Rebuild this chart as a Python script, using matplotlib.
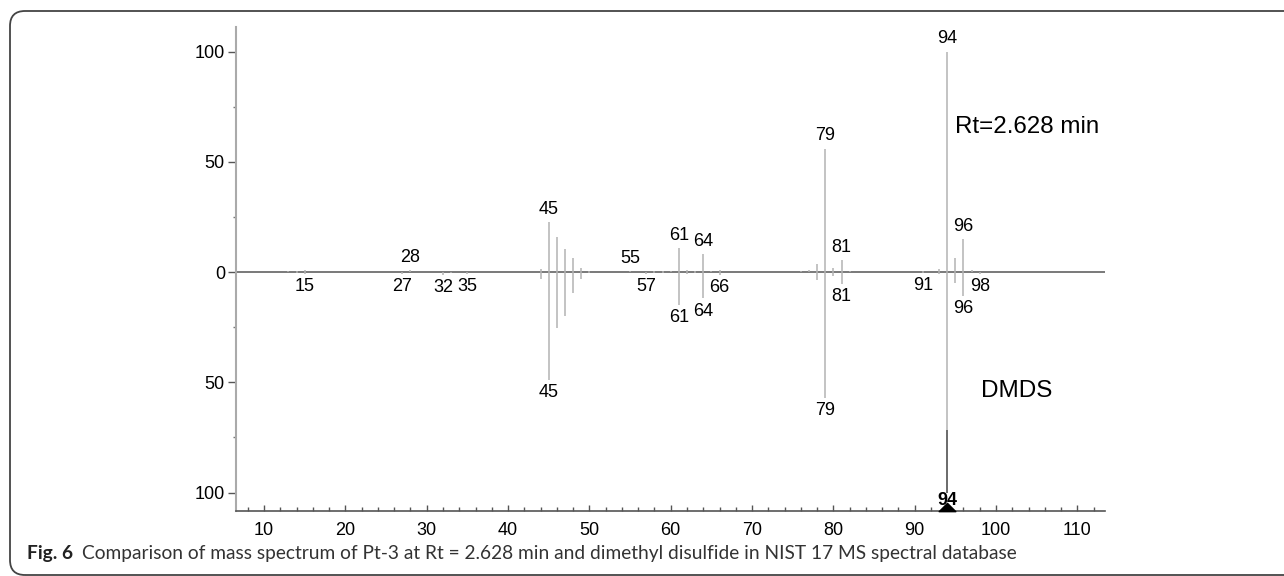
import numpy as np
import matplotlib
matplotlib.use("Agg")
import matplotlib.pyplot as plt
from matplotlib.patches import FancyBboxPatch
from matplotlib.path import Path
from matplotlib.ticker import MultipleLocator, FuncFormatter

# sample spectrum (Pt-3, Rt = 2.628 min), drawn upwards
sample_mz = [13, 14, 15, 28, 44, 45, 46, 47, 48, 49, 50, 55, 58, 59, 60, 61, 62, 63, 64,
             65, 66, 76, 77, 78, 79, 80, 81, 82, 91, 93, 94, 95, 96, 97]
sample_int = [0.3, 0.5, 0.8, 0.8, 1.5, 22.5, 16, 10.5, 6.5, 2, 0.5, 0.5, 0.5, 0.5, 0.4, 11, 1, 0.5, 8.2,
              0.5, 0.8, 0.5, 0.8, 3.6, 56, 2, 5.5, 0.5, 0.3, 1.5, 100, 6.3, 14.8, 0.8]
sample_labels = [28, 45, 55, 61, 64, 79, 81, 94, 96]

# NIST 17 library spectrum (dimethyl disulfide), drawn downwards
nist_mz = [14, 15, 27, 32, 33, 35, 44, 45, 46, 47, 48, 49, 50, 57, 58, 59, 61, 62, 63, 64,
           66, 78, 79, 80, 81, 91, 93, 94, 95, 96, 98]
nist_int = [0.5, 1.0, 0.8, 1.5, 0.5, 0.8, 3, 49, 25.5, 20, 9.4, 3.2, 0.5, 0.8, 0.5, 0.5, 15, 1, 0.5, 12,
            1.5, 3.6, 57, 2, 5.5, 0.5, 0.8, 100, 4.9, 11, 0.8]
nist_labels = [15, 27, 32, 35, 45, 57, 61, 64, 66, 79, 81, 91, 96, 98]

base_peak = 94

plt.rcParams["font.family"] = ["Liberation Sans", "DejaVu Sans"]

fig = plt.figure(figsize=(12.84, 5.76), dpi=100)
ax = fig.add_axes([0.1838, 0.1128, 0.6768, 0.8402])

peak_col = "#b3b3b3"
ax.vlines(sample_mz, 0, sample_int, color=peak_col, lw=1.1)
ax.vlines(nist_mz, 0, -np.array(nist_int), color=peak_col, lw=1.1)
ax.axhline(0, color="#555555", lw=1.1, zorder=1)

# darker stretch of the base peak near the bottom axis
ax.vlines([base_peak], -100, -71.7, color="#555555", lw=1.1)

int_of = dict(zip(sample_mz, sample_int))
for m in sample_labels:
    ax.annotate(str(m), (m, int_of[m]), xytext=(0, 3), textcoords="offset points",
                ha="center", va="bottom", fontsize=13)
nist_of = dict(zip(nist_mz, nist_int))
for m in nist_labels:
    ax.annotate(str(m), (m, -nist_of[m]), xytext=(0, -3), textcoords="offset points",
                ha="center", va="top", fontsize=13)

# base peak marker on the m/z axis (flat triangle)
tri = Path([(-1, -0.5), (1, -0.5), (0, 0.5), (-1, -0.5)],
           [Path.MOVETO, Path.LINETO, Path.LINETO, Path.CLOSEPOLY])
ax.plot([base_peak], [-106.4], marker=tri, color="black", ms=12, clip_on=False, zorder=7)
ax.text(base_peak, -103.6, str(base_peak), ha="center", va="center", fontsize=13,
        fontweight="bold", zorder=6)

ax.text(95.0, 66, "Rt=2.628 min", fontsize=17.4, ha="left", va="center")
ax.text(98.2, -54, "DMDS", fontsize=17.5, ha="left", va="center")

ax.set_xlim(6.55, 113.4)
ax.set_ylim(-108.4, 111.1)

for s in ["top", "right"]:
    ax.spines[s].set_visible(False)
ax.spines["left"].set_color("#aaaaaa")
ax.spines["left"].set_linewidth(1.5)
ax.spines["bottom"].set_color("#555555")
ax.spines["bottom"].set_linewidth(1.2)

ax.xaxis.set_major_locator(MultipleLocator(10))
ax.xaxis.set_minor_locator(MultipleLocator(2))
ax.yaxis.set_major_locator(MultipleLocator(50))
ax.yaxis.set_minor_locator(MultipleLocator(25))
ax.yaxis.set_major_formatter(FuncFormatter(lambda v, p: f"{abs(v):.0f}"))

ax.tick_params(axis="x", which="major", direction="in", length=4.5, width=1, color="#555555",
               pad=8, labelsize=13)
ax.tick_params(axis="x", which="minor", direction="in", length=3, width=1, color="#555555")
ax.tick_params(axis="y", which="major", direction="out", length=6, width=1, color="#555555",
               pad=2, labelsize=13)
ax.tick_params(axis="y", which="minor", direction="out", length=2.5, width=1, color="#777777")

# rounded frame around the figure
frame = FancyBboxPatch((0.10, 0.01), 12.9, 5.64, boxstyle="round,pad=0,rounding_size=0.15",
                       transform=fig.dpi_scale_trans, fill=False, ec="#444444", lw=1.3)
fig.patches.append(frame)

# caption
fig.canvas.draw()
r = fig.canvas.get_renderer()
cap_y = 1 - 553 / 576
cap_font = ["Lato", "DejaVu Sans"]
t1 = fig.text(27 / 1284, cap_y, "Fig. 6", fontsize=13.8, fontweight="bold",
              family=cap_font, va="center", color="#222222")
bb = t1.get_window_extent(r)
fig.text((bb.x1 + 9) / 1284, cap_y,
         "Comparison of mass spectrum of Pt-3 at Rt = 2.628 min and dimethyl disulfide in NIST 17 MS spectral database",
         fontsize=13.8, family=cap_font, va="center", color="#333333")

fig.savefig("out.png", dpi=100)
